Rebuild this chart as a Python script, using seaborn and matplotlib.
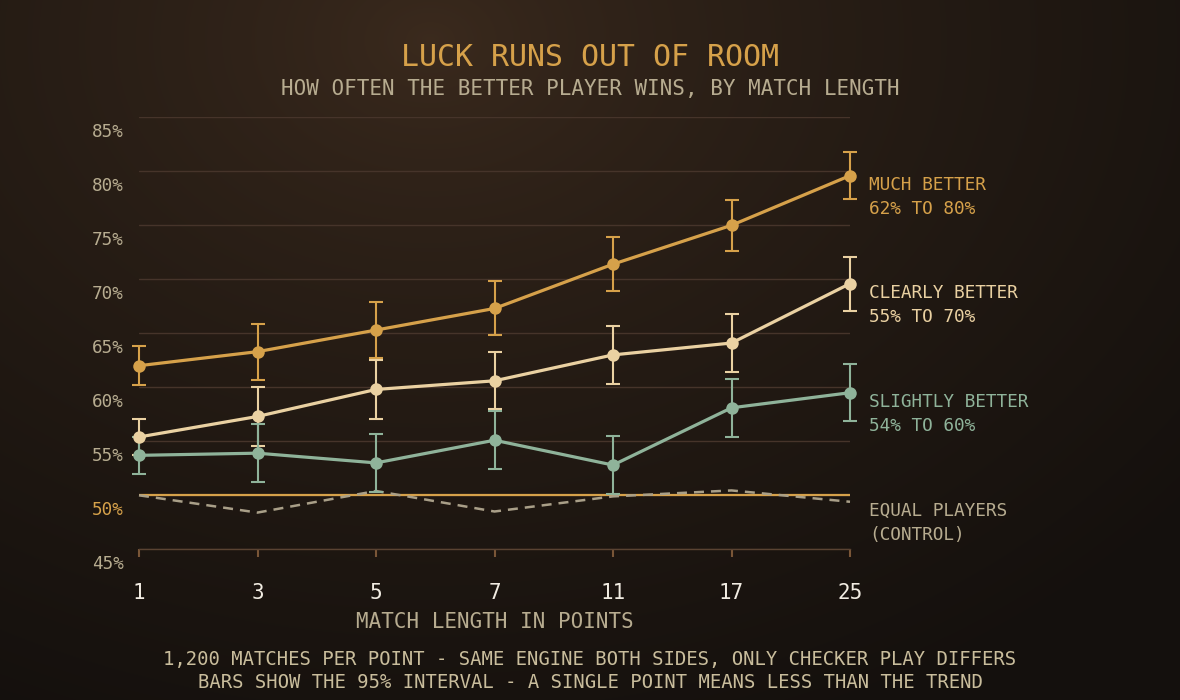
import numpy as np
import pandas as pd
import matplotlib
matplotlib.use("Agg")
import matplotlib.pyplot as plt
import matplotlib.transforms as mtransforms
import seaborn as sns


# -----------------------------
# Data
# -----------------------------
MATCH_LENGTHS = [1, 3, 5, 7, 11, 17, 25]

SERIES_NAMES = ["MUCH BETTER", "CLEARLY BETTER", "SLIGHTLY BETTER"]
RANGE_LABELS = ["62% TO 80%", "55% TO 70%", "54% TO 60%"]

MUCH_BETTER = [62.0, 63.3, 65.3, 67.3, 71.4, 75.0, 79.6]
MUCH_BETTER_ERR = [1.8, 2.6, 2.6, 2.5, 2.5, 2.35, 2.2]

CLEARLY_BETTER = [55.4, 57.3, 59.8, 60.6, 63.0, 64.1, 69.6]
CLEARLY_BETTER_ERR = [1.65, 2.7, 2.7, 2.65, 2.65, 2.65, 2.5]

SLIGHTLY_BETTER = [53.7, 53.9, 53.0, 55.1, 52.8, 58.1, 59.5]
SLIGHTLY_BETTER_ERR = [1.7, 2.7, 2.67, 2.7, 2.7, 2.7, 2.65]

EQUAL_PLAYERS = [50.0, 48.4, 50.4, 48.5, 49.9, 50.45, 49.4]

Y_TICKS = [45, 50, 55, 60, 65, 70, 75, 80, 85]

# -----------------------------
# Styling
# -----------------------------
ORANGE = "#d6a14a"
CREAM = "#ead1a2"
GREEN = "#8fb39a"
CONTROL = "#a99f88"
GRID = "#46342a"
AXIS = "#5a4332"
TICK = "#7a5637"
MUTED = "#b7ac90"
WHITE = "#f1ece2"
FOOTER = "#c9bd9c"

PALETTE = dict(zip(SERIES_NAMES, [ORANGE, CREAM, GREEN]))
FONT = ["DejaVu Sans Mono"]

W, H = 1180, 700

sns.set_theme(style="dark")
plt.rcParams["font.family"] = FONT


def build_frame():
    values = [MUCH_BETTER, CLEARLY_BETTER, SLIGHTLY_BETTER]
    errs = [MUCH_BETTER_ERR, CLEARLY_BETTER_ERR, SLIGHTLY_BETTER_ERR]
    rows = []
    for name, vals, es in zip(SERIES_NAMES, values, errs):
        for i, (length, v, e) in enumerate(zip(MATCH_LENGTHS, vals, es)):
            rows.append({"series": name, "pos": i, "length": length, "value": v, "err": e})
    return pd.DataFrame(rows)


def draw_background(fig):
    # soft radial glow, lighter near the title
    bg = fig.add_axes([0, 0, 1, 1], zorder=-10)
    yy, xx = np.mgrid[0:H, 0:W]
    d = np.sqrt(((xx - 430) / 1000.0) ** 2 + ((yy - 40) / 750.0) ** 2)
    t = np.clip(d, 0, 1) ** 0.7
    inner = np.array([60, 43, 30]) / 255.0
    outer = np.array([20, 16, 13]) / 255.0
    img = inner[None, None, :] * (1 - t[..., None]) + outer[None, None, :] * t[..., None]
    bg.imshow(img, aspect="auto", extent=[0, 1, 0, 1])
    bg.set_axis_off()


def main():
    df = build_frame()

    fig = plt.figure(figsize=(W / 100, H / 100), dpi=100)
    draw_background(fig)

    ax = fig.add_axes([139 / W, 1 - 549.3 / H, (850 - 139) / W, 432 / H])
    ax.set_facecolor("none")

    # reference line at 50%
    ax.axhline(50, color=ORANGE, lw=1.6, zorder=2)

    # control series (dashed)
    sns.lineplot(
        x=list(range(len(MATCH_LENGTHS))),
        y=EQUAL_PLAYERS,
        color=CONTROL,
        linewidth=1.8,
        linestyle=(0, (4, 2.8)),
        ax=ax,
        zorder=3,
        clip_on=False,
    )

    # error bars
    for name in SERIES_NAMES:
        sub = df[df["series"] == name]
        eb = ax.errorbar(
            sub["pos"], sub["value"], yerr=sub["err"],
            fmt="none", ecolor=PALETTE[name], elinewidth=1.5,
            capsize=5, capthick=1.5, zorder=4,
        )
        for art in eb.lines[1] + eb.lines[2]:
            art.set_clip_on(False)

    # main lines with markers
    sns.lineplot(
        data=df, x="pos", y="value", hue="series", palette=PALETTE,
        hue_order=SERIES_NAMES, marker="o", markersize=9, markeredgewidth=0,
        linewidth=2.3, legend=False, ax=ax, zorder=5, clip_on=False,
    )

    # axes
    ax.set_xlim(0, len(MATCH_LENGTHS) - 1)
    ax.set_ylim(Y_TICKS[0], Y_TICKS[-1])
    ax.set_xticks(range(len(MATCH_LENGTHS)))
    ax.set_xticklabels([str(m) for m in MATCH_LENGTHS])
    ax.set_yticks(Y_TICKS)
    ax.set_yticklabels([f"{t}%" for t in Y_TICKS])

    ax.yaxis.grid(True, color=GRID, lw=1)
    ax.xaxis.grid(False)
    for side in ["top", "right", "left"]:
        ax.spines[side].set_visible(False)
    ax.spines["bottom"].set_color(AXIS)
    ax.spines["bottom"].set_linewidth(1)

    ax.tick_params(axis="y", left=False, length=0, pad=11, labelsize=12.7, labelcolor=MUTED)
    ax.tick_params(axis="x", bottom=True, length=6, width=1.5, color=TICK, direction="out",
                   pad=18, labelsize=15, labelcolor=WHITE)

    # y labels sit just below their gridline
    shift = mtransforms.ScaledTranslation(0, -13 / 100, fig.dpi_scale_trans)
    for lbl in ax.get_yticklabels():
        lbl.set_transform(lbl.get_transform() + shift)
        if lbl.get_text() == "50%":
            lbl.set_color(ORANGE)

    ax.set_xlabel("MATCH LENGTH IN POINTS", fontsize=15, color=MUTED)
    ax.xaxis.set_label_coords(0.5, -(622 - 549.3) / 432)
    ax.xaxis.label.set_va("center")
    ax.set_ylabel("")

    # end labels
    last = len(MATCH_LENGTHS) - 1
    end_labels = [
        (SERIES_NAMES[0], RANGE_LABELS[0], MUCH_BETTER[-1], ORANGE),
        (SERIES_NAMES[1], RANGE_LABELS[1], CLEARLY_BETTER[-1], CREAM),
        (SERIES_NAMES[2], RANGE_LABELS[2], SLIGHTLY_BETTER[-1], GREEN),
        ("EQUAL PLAYERS", "(CONTROL)", EQUAL_PLAYERS[-1], MUTED),
    ]
    for head, sub, yv, col in end_labels:
        ax.annotate(head, xy=(last, yv), xytext=(13.7, -6.5), textcoords="offset points",
                    ha="left", va="center", fontsize=12.8, color=col, annotation_clip=False)
        ax.annotate(sub, xy=(last, yv), xytext=(13.7, -23.8), textcoords="offset points",
                    ha="left", va="center", fontsize=12.8, color=col, annotation_clip=False)

    # titles and footer
    fig.text(0.5, 1 - 57 / H, "LUCK RUNS OUT OF ROOM", ha="center", va="center",
             fontsize=21.5, color=ORANGE)
    fig.text(0.5, 1 - 89 / H, "HOW OFTEN THE BETTER PLAYER WINS, BY MATCH LENGTH",
             ha="center", va="center", fontsize=15, color=MUTED)
    fig.text(0.5, 1 - 659 / H,
             "1,200 MATCHES PER POINT - SAME ENGINE BOTH SIDES, ONLY CHECKER PLAY DIFFERS",
             ha="center", va="center", fontsize=13.6, color=FOOTER)
    fig.text(0.5, 1 - 682 / H,
             "BARS SHOW THE 95% INTERVAL - A SINGLE POINT MEANS LESS THAN THE TREND",
             ha="center", va="center", fontsize=13.6, color=FOOTER)

    fig.savefig("out.png", dpi=100)
    plt.close(fig)


if __name__ == "__main__":
    main()
